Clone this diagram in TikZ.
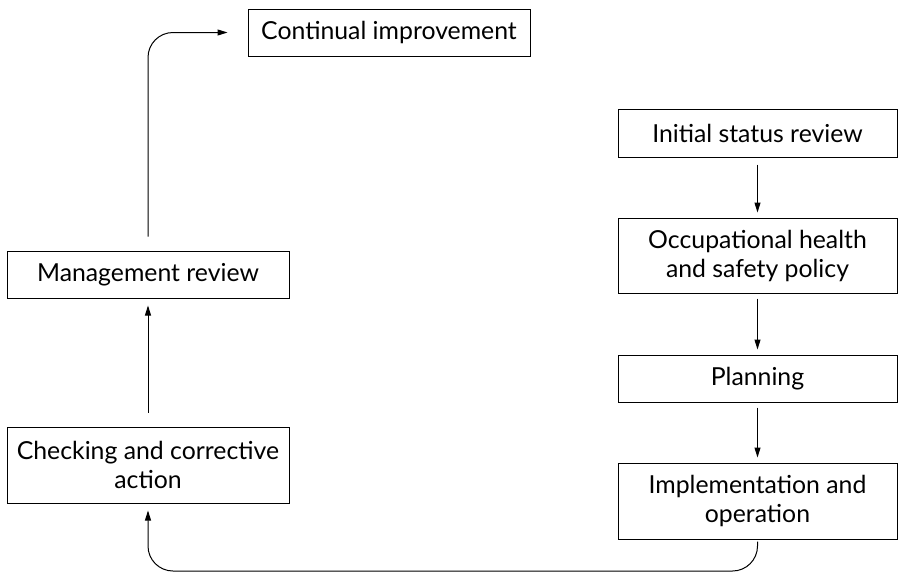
\documentclass[tikz,border=0pt]{standalone}
\usepackage{fontspec}
\setmainfont{Lato}
\usetikzlibrary{arrows.meta}
\begin{document}
\begin{tikzpicture}[x=1pt,y=-1pt,
  box/.style={draw,line width=1pt,inner sep=0pt,align=center,
    font=\fontsize{24.8}{29}\selectfont},
  arr/.style={-{Triangle[length=10pt,width=6pt]},line width=1pt}]
\useasboundingbox (0,0) rectangle (898,573);
\node[box,minimum width=282pt,minimum height=47pt] (cont) at (389,32.5) {Continual improvement};
\node[box,minimum width=282pt,minimum height=47pt] (mgmt) at (148,274.5) {Management review};
\node[box,minimum width=282pt,minimum height=76pt] (check) at (148,465) {Checking and corrective\\action};
\node[box,minimum width=279pt,minimum height=48pt] (init) at (757.5,133) {Initial status review};
\node[box,minimum width=279pt,minimum height=75pt] (ohs) at (757.5,255.5) {Occupational health\\and safety policy};
\node[box,minimum width=279pt,minimum height=47pt] (plan) at (757.5,378.5) {Planning};
\node[box,minimum width=279pt,minimum height=76pt] (impl) at (757.5,501) {Implementation and\\operation};
\coordinate (bot) at (450,571);
\draw[arr,rounded corners=25pt] ([yshift=14pt]mgmt.north) |- ([xshift=-20pt]cont.west);
\draw[arr] ([yshift=14pt]check.north) -- ([yshift=-7pt]mgmt.south);
\draw[arr,rounded corners=25pt] ([yshift=-2pt]impl.south) -- (impl.south |- bot) -- (check.south |- bot) -- ([yshift=-7pt]check.south);
\draw[arr] ([yshift=-7pt]init.south) -- ([yshift=5pt]ohs.north);
\draw[arr] ([yshift=-5pt]ohs.south) -- ([yshift=5pt]plan.north);
\draw[arr] ([yshift=-5pt]plan.south) -- ([yshift=5pt]impl.north);
\end{tikzpicture}
\end{document}
